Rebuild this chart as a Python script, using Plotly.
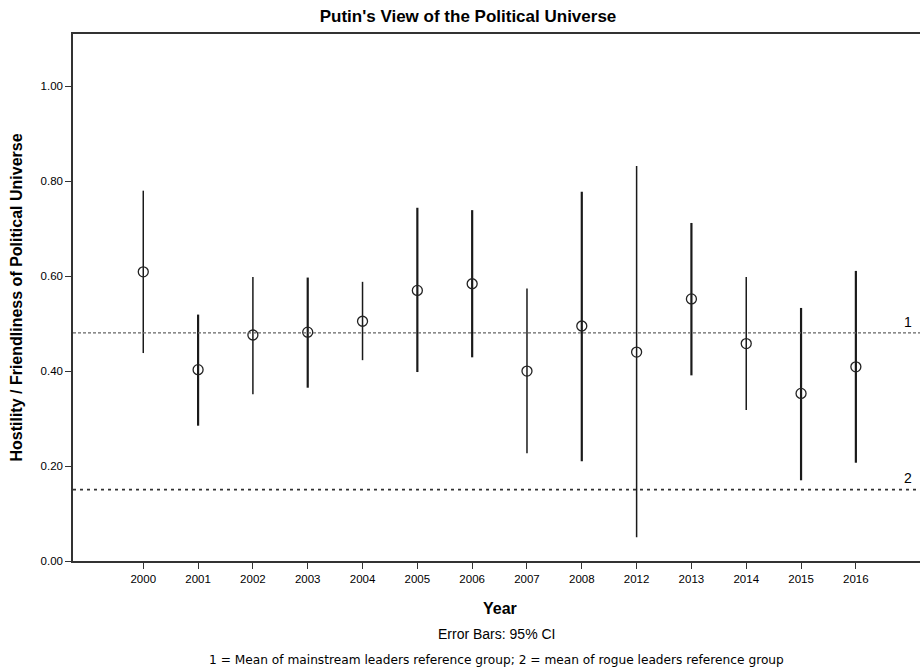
import plotly.graph_objects as go

years = ["2000", "2001", "2002", "2003", "2004", "2005", "2006", "2007",
         "2008", "2012", "2013", "2014", "2015", "2016"]
means = [0.609, 0.403, 0.476, 0.482, 0.505, 0.570, 0.584, 0.400,
         0.495, 0.440, 0.552, 0.458, 0.353, 0.409]
upper = [0.780, 0.519, 0.598, 0.597, 0.588, 0.744, 0.739, 0.574,
         0.778, 0.832, 0.712, 0.598, 0.533, 0.611]
lower = [0.438, 0.285, 0.351, 0.365, 0.423, 0.398, 0.429, 0.227,
         0.210, 0.050, 0.391, 0.318, 0.170, 0.207]
thick = [False, True, False, True, False, True, True, False,
         True, False, True, False, True, True]
ref_mainstream = 0.4805
ref_rogue = 0.1505
y_ticks = [0.0, 0.2, 0.4, 0.6, 0.8, 1.0]

FONT = "Liberation Sans, Arial, sans-serif"
FONT2 = "DejaVu Sans, sans-serif"
BLACK = "#000000"
idx = list(range(len(years)))

fig = go.Figure()
for grp, width in ((True, 2.2), (False, 1.5)):
    xs = [i for i in idx if thick[i] == grp]
    fig.add_trace(go.Scatter(
        x=xs, y=[means[i] for i in xs], mode="markers",
        marker=dict(symbol="circle-open", size=10, color="#222",
                    line=dict(width=1.3, color="#222")),
        error_y=dict(type="data", symmetric=False,
                     array=[upper[i] - means[i] for i in xs],
                     arrayminus=[means[i] - lower[i] for i in xs],
                     width=0, thickness=width, color="#1a1a1a"),
        showlegend=False, hoverinfo="skip"))

fig.add_hline(y=ref_mainstream, line=dict(color="#666", width=1.3, dash="3px,2px"))
fig.add_hline(y=ref_rogue, line=dict(color="#333", width=1.8, dash="3px,4px"))

fig.update_layout(
    width=920, height=671,
    margin=dict(l=73, r=0, t=34, b=110, autoexpand=False),
    paper_bgcolor="white", plot_bgcolor="white",
    title=dict(text="<b>Putin's View of the Political Universe</b>",
               x=0.5 + 8 / 920, xanchor="center", y=1 - 16 / 671, yanchor="middle",
               font=dict(family=FONT, size=17, color=BLACK)),
    font=dict(family=FONT, color=BLACK),
)
fig.add_annotation(x=13.95, y=ref_mainstream, text="1", showarrow=False,
                   yshift=11, font=dict(family=FONT, size=14, color=BLACK))
fig.add_annotation(x=13.95, y=ref_rogue, text="2", showarrow=False,
                   yshift=12, font=dict(family=FONT, size=14, color=BLACK))
fig.add_annotation(x=(500 - 73) / 847, xref="paper",
                   y=-(608 - 561) / 527, yref="paper", yanchor="middle",
                   text="<b>Year</b>", showarrow=False,
                   font=dict(family=FONT, size=16, color=BLACK))
fig.add_annotation(x=(496 - 73) / 847, xref="paper", y=-(634 - 561) / 527, yref="paper",
                   yanchor="middle", text="Error Bars: 95% CI", showarrow=False,
                   font=dict(family=FONT, size=14, color=BLACK))
fig.add_annotation(x=(496 - 73) / 847, xref="paper", y=-(660 - 561) / 527, yref="paper",
                   yanchor="middle",
                   text="1 = Mean of mainstream leaders reference group; 2 = mean of rogue leaders reference group",
                   showarrow=False,
                   font=dict(family=FONT2, size=12.2, color=BLACK))

fig.update_xaxes(range=[-1.282, 14.17], tickmode="array", tickvals=idx,
                 ticktext=years, ticks="outside", ticklen=6, tickwidth=1.3,
                 tickcolor="#333", showline=True, linecolor="#333", linewidth=1.5,
                 mirror=True, showgrid=False, zeroline=False, automargin=False,
                 tickfont=dict(family=FONT, size=11.5, color=BLACK))
fig.update_yaxes(range=[0, 1.11], tickmode="array", tickvals=y_ticks,
                 ticktext=[f"{v:.2f}" for v in y_ticks], ticks="outside",
                 ticklen=6, tickwidth=1.3, tickcolor="#333", showline=True,
                 linecolor="#333", linewidth=1.5, showgrid=False, zeroline=False,
                 automargin=False,
                 tickfont=dict(family=FONT, size=11.5, color=BLACK),
                 title=dict(text="<b>Hostility / Friendliness of Political Universe</b>",
                            font=dict(family=FONT, size=16, color=BLACK),
                            standoff=14))

fig.write_html("out.html", config={"displayModeBar": False},
               post_script="document.body.style.margin='0';document.body.style.overflow='hidden';")
